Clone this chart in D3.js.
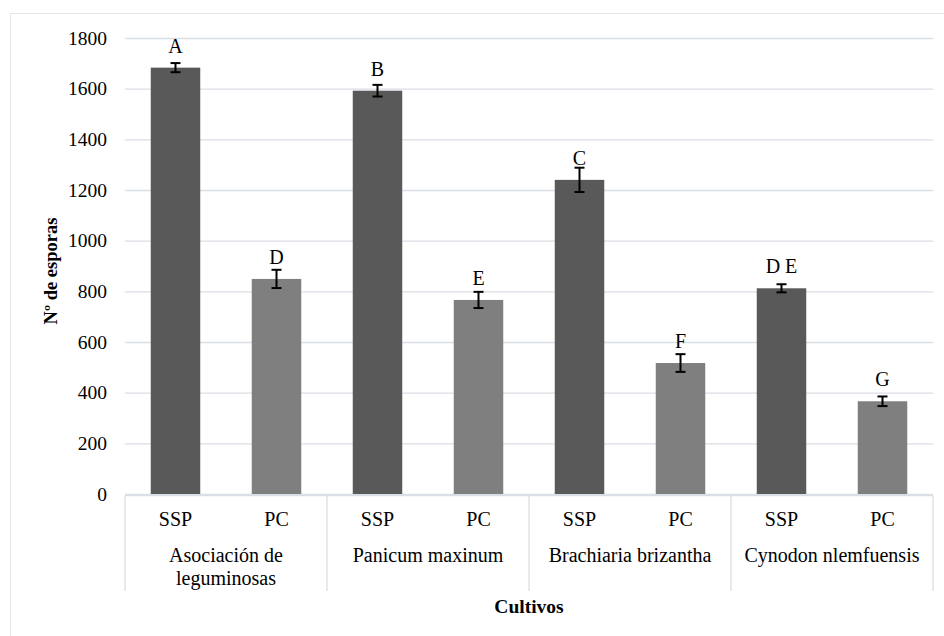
<!DOCTYPE html>
<html>
<head>
<meta charset="utf-8">
<script src="https://cdn.jsdelivr.net/npm/d3@7"></script>
<style>
  body { margin: 0; background: #fff; }
  svg text { font-family: "Liberation Serif", "Times New Roman", "DejaVu Serif", serif; }
</style>
</head>
<body>
<svg width="944" height="636"></svg>
<script>
const cultivos = ["Asociación de leguminosas", "Panicum maxinum", "Brachiaria brizantha", "Cynodon nlemfuensis"];
const tratamientos = ["SSP", "PC"];
const valoresSSP = [1683, 1592, 1240, 812];
const valoresPC = [849, 766, 517, 366];
const errorSSP = [18, 23, 48, 16];
const errorPC = [36, 32, 35, 19];
const letrasSSP = ["A", "B", "C", "D E"];
const letrasPC = ["D", "E", "F", "G"];
const yTicks = [0, 200, 400, 600, 800, 1000, 1200, 1400, 1600, 1800];

const DARK = '#595959';
const LIGHT = '#7f7f7f';
const GRID = '#dadee5';
const FONT = '"Liberation Serif", "Times New Roman", serif';

const plotLeft = 125, plotRight = 933, plotTop = 38, plotBottom = 494;

// flatten to one bar per (cultivo, tratamiento)
let bars = [];
cultivos.forEach((c, i) => {
  bars.push({ key: c + "|SSP", cultivo: c, trat: tratamientos[0], value: valoresSSP[i], err: errorSSP[i], letra: letrasSSP[i], color: DARK });
  bars.push({ key: c + "|PC", cultivo: c, trat: tratamientos[1], value: valoresPC[i], err: errorPC[i], letra: letrasPC[i], color: LIGHT });
});

const svg = d3.select("svg").attr("font-family", FONT);

// outer chart frame
svg.append("rect")
  .attr("x", 10.5).attr("y", 13.5)
  .attr("width", 1000).attr("height", 1000)
  .attr("fill", "none").attr("stroke", "#e3e6ea");

const x = d3.scaleBand().domain(bars.map(d => d.key)).range([plotLeft, plotRight]).paddingInner(0.51).paddingOuter(0.255);
const xGroup = d3.scaleBand().domain(cultivos).range([plotLeft, plotRight]);
const y = d3.scaleLinear().domain([0, 1800]).range([plotBottom, plotTop]);

// gridlines + y labels
const yAxis = svg.append("g")
  .attr("transform", `translate(${plotLeft},0)`)
  .call(d3.axisLeft(y).tickValues(yTicks).tickFormat(d3.format("d")).tickSize(-(plotRight - plotLeft)).tickPadding(18));
yAxis.attr("font-family", FONT);
yAxis.select(".domain").remove();
yAxis.selectAll(".tick line").attr("stroke", GRID).attr("stroke-width", 1.3);
yAxis.selectAll(".tick text")
  .attr("font-size", "19.5px")
  .attr("fill", "#000");

// bars
svg.append("g").selectAll("rect")
  .data(bars)
  .enter()
  .append("rect")
  .attr("x", d => x(d.key))
  .attr("y", d => y(d.value))
  .attr("width", x.bandwidth())
  .attr("height", d => y(0) - y(d.value))
  .attr("fill", d => d.color);

// error bars
const eb = svg.append("g").attr("stroke", "#000").attr("stroke-width", 2);
bars.forEach(d => {
  const cx = x(d.key) + x.bandwidth() / 2;
  eb.append("line").attr("x1", cx).attr("x2", cx).attr("y1", y(d.value + d.err)).attr("y2", y(d.value - d.err));
  eb.append("line").attr("x1", cx - 5).attr("x2", cx + 5).attr("y1", y(d.value + d.err)).attr("y2", y(d.value + d.err));
  eb.append("line").attr("x1", cx - 5).attr("x2", cx + 5).attr("y1", y(d.value - d.err)).attr("y2", y(d.value - d.err));
});

// significance letters
svg.append("g").selectAll("text")
  .data(bars)
  .enter()
  .append("text")
  .attr("x", d => x(d.key) + x.bandwidth() / 2)
  .attr("y", d => y(d.value) - 15)
  .attr("text-anchor", "middle")
  .attr("font-size", "20px")
  .text(d => d.letra);

// category axis: baseline and separators
const catAxis = svg.append("g").attr("stroke", GRID).attr("stroke-width", 1.3);
catAxis.append("line").attr("x1", plotLeft).attr("x2", plotRight).attr("y1", plotBottom + 1.5).attr("y2", plotBottom + 1.5);
cultivos.concat([null]).forEach(c => {
  const xx = c ? xGroup(c) : plotRight;
  catAxis.append("line").attr("x1", xx).attr("x2", xx).attr("y1", plotBottom + 1.5).attr("y2", 591);
});

// treatment labels
svg.append("g").selectAll("text")
  .data(bars)
  .enter()
  .append("text")
  .attr("x", d => x(d.key) + x.bandwidth() / 2)
  .attr("y", 526)
  .attr("text-anchor", "middle")
  .attr("font-size", "20px")
  .text(d => d.trat);

// crop labels, wrapped to group width
const groupLabels = svg.append("g").selectAll("text")
  .data(cultivos)
  .enter()
  .append("text")
  .attr("x", d => xGroup(d) + xGroup.bandwidth() / 2)
  .attr("y", 562)
  .attr("text-anchor", "middle")
  .attr("font-size", "20px");

groupLabels.each(function(d) {
  const t = d3.select(this);
  const cx = xGroup(d) + xGroup.bandwidth() / 2;
  const words = d.split(" ");
  let line = [];
  let tspan = t.append("tspan").attr("x", cx).attr("dy", 0);
  words.forEach(w => {
    line.push(w);
    tspan.text(line.join(" "));
    if (tspan.node().getComputedTextLength() > xGroup.bandwidth() - 6 && line.length > 1) {
      line.pop();
      tspan.text(line.join(" "));
      line = [w];
      tspan = t.append("tspan").attr("x", cx).attr("dy", 23).text(w);
    }
  });
});

// axis titles
svg.append("text")
  .attr("x", (plotLeft + plotRight) / 2)
  .attr("y", 613)
  .attr("text-anchor", "middle")
  .attr("font-weight", "bold")
  .attr("font-size", "19.5px")
  .text("Cultivos");

svg.append("text")
  .attr("transform", `translate(57,${(plotTop + plotBottom) / 2 + 5}) rotate(-90)`)
  .attr("text-anchor", "middle")
  .attr("font-weight", "bold")
  .attr("font-size", "18.5px")
  .text("Nº de esporas");
</script>
</body>
</html>
